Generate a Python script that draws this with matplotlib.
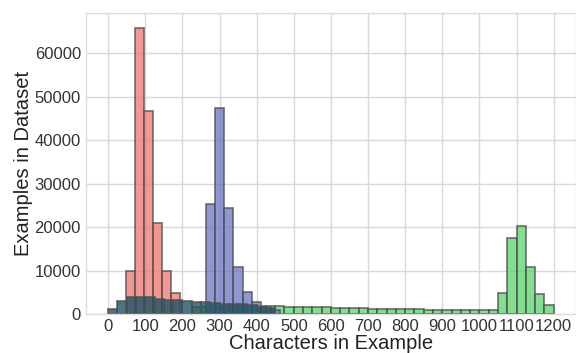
import matplotlib
matplotlib.use("Agg")
import matplotlib.pyplot as plt
import numpy as np

plt.style.use("seaborn-v0_8-whitegrid")
plt.rcParams["font.family"] = ["Liberation Sans", "DejaVu Sans"]

# bin counts (bin width ~25 characters)
red_start = 48
red_width = 24.2
red_counts = [10000, 65900, 46700, 20900, 9800, 4800]

blue_start = 262.5
blue_width = 25
blue_counts = [25300, 47400, 24400, 10700, 5100, 2800, 1700, 900]

green_start = 225
green_width = 25
green_counts = [1500, 1600, 1650, 1700, 1750, 1800, 1850, 1900,
                1900, 1800, 1700, 1650, 1600, 1550, 1500, 1450,
                1400, 1350, 1300, 1250, 1200, 1150, 1100, 1100,
                1050, 1000, 1000, 950, 950, 900, 900, 900,
                900, 4900, 17600, 20300, 10700, 4500, 2000]

dark_start = 0
dark_width = 25
dark_counts = [1100, 3100, 3800, 3850, 3900, 3500, 3250, 3200,
               3000, 2800, 2700, 2500, 2400, 2300, 2200, 2000,
               1700, 1450]

xticks = list(range(0, 1201, 100))
yticks = list(range(0, 60001, 10000))


def edges(start, width, n):
    return start + width * np.arange(n + 1)


fig = plt.figure(figsize=(5.76, 3.53), dpi=100)
ax = fig.add_axes([0.149, 0.1105, 0.851, 0.852])

series = [
    (green_start, green_width, green_counts, "#5ad36b", 0.75),
    (red_start, red_width, red_counts, "#f07570", 0.75),
    (blue_start, blue_width, blue_counts, "#6874c4", 0.75),
    (dark_start, dark_width, dark_counts, "#1f5466", 0.8),
]
for start, width, counts, color, a in series:
    b = edges(start, width, len(counts))
    ax.hist(b[:-1], bins=b, weights=counts, color=color, alpha=a,
            edgecolor="#505050", linewidth=1.3)

ax.set_xticks(xticks)
ax.set_yticks(yticks)
ax.set_xlim(-60, 1260)
ax.set_ylim(0, 69200)
ax.tick_params(labelsize=12, labelcolor="#333333")
ax.grid(True, color="#d8d8d8", linewidth=1)
ax.set_axisbelow(True)
for s in ax.spines.values():
    s.set_visible(True)
    s.set_color("#dddddd")
ax.set_xlabel("Characters in Example", fontsize=14.5, labelpad=0, color="#222222")
ax.set_ylabel("Examples in Dataset", fontsize=14.5, labelpad=1, color="#222222")

fig.savefig("out.png", dpi=100)
